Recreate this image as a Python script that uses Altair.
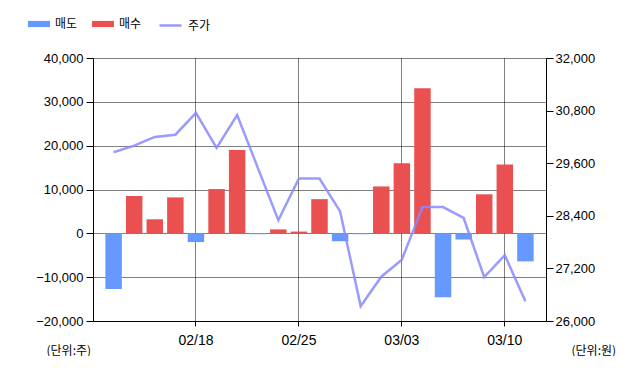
import altair as alt
import pandas as pd

dates = ["02/12", "02/13", "02/14", "02/17", "02/18", "02/19", "02/20", "02/21",
         "02/24", "02/25", "02/26", "02/27", "02/28", "03/02", "03/03", "03/04",
         "03/05", "03/06", "03/09", "03/10", "03/11"]
sell = [-12700, 0, 0, 0, -2000, 0, 0, -200, 0, 0, 0, -1800, -200, 0, 0, 0,
        -14600, -1400, 0, 0, -6400]
buy = [0, 8500, 3200, 8200, 0, 10100, 19000, 0, 900, 400, 7800, 0, 0, 10700,
       16000, 33100, 0, 0, 8900, 15700, 0]
price = [29850, 30000, 30200, 30250, 30750, 29950, 30700, 29500, 28300, 29250,
         29250, 28500, 26340, 27010, 27400, 28600, 28600, 28350, 27000, 27500, 26450]
x_ticks = ["02/18", "02/25", "03/03", "03/10"]
left_ticks = [-20000, -10000, 0, 10000, 20000, 30000, 40000]
right_ticks = [26000, 27200, 28400, 29600, 30800, 32000]

rows = []
for d, s, b in zip(dates, sell, buy):
    if s:
        rows.append({"date": d, "type": "매도", "value": s})
    if b:
        rows.append({"date": d, "type": "매수", "value": b})
bars_df = pd.DataFrame(rows)
line_df = pd.DataFrame({"date": dates, "price": price, "series": ["주가"] * len(dates)})

FONT = "Liberation Sans, Noto Sans CJK KR"
KFONT = "Noto Sans CJK KR"

x_enc = alt.X(
    "date:N", sort=dates, title=None,
    scale=alt.Scale(domain=dates, paddingInner=0.2, paddingOuter=0.6),
    axis=alt.Axis(values=x_ticks, labelAngle=0, grid=True, gridDash=[1, 1],
                  gridColor="#000000", gridOpacity=1, tickSize=5, labelPadding=7,
                  labelFontSize=14,
                  domainColor="#000000", tickColor="#000000"),
)

bars = alt.Chart(bars_df).mark_bar().encode(
    x=x_enc,
    y=alt.Y("value:Q",
            scale=alt.Scale(domain=[-20000, 40000], nice=False),
            axis=alt.Axis(values=left_ticks, format=",d", grid=True, gridDash=[1, 1],
                          gridColor="#000000", gridOpacity=1, tickSize=7, labelPadding=3,
                          labelFontSize=13,
                          domainColor="#000000", tickColor="#000000",
                          title="(단위:주)", titleAngle=0, titleX=-47, titleY=292,
                          titleAlign="left", titleBaseline="middle", titleFont=KFONT)),
    color=alt.Color("type:N",
                    scale=alt.Scale(domain=["매도", "매수"], range=["#6699ff", "#ea5050"]),
                    legend=alt.Legend(orient="none", legendX=-65, legendY=-45,
                                      direction="horizontal", title=None,
                                      symbolType="M-1,-0.28H1V0.28H-1Z", symbolSize=484,
                                      symbolStrokeWidth=0, labelOffset=5, columnPadding=14)),
)

line = alt.Chart(line_df).mark_line(strokeWidth=2.5, opacity=0.85).encode(
    x=x_enc,
    y=alt.Y("price:Q",
            scale=alt.Scale(domain=[26000, 32000], nice=False, zero=False),
            axis=alt.Axis(orient="right", values=right_ticks, format=",d", grid=False,
                          tickSize=7, labelPadding=2, labelFontSize=13,
                          domainColor="#000000", tickColor="#000000",
                          title="(단위:원)", titleAngle=0, titleX=25, titleY=292,
                          titleAlign="left", titleBaseline="middle", titleFont=KFONT)),
    stroke=alt.Stroke("series:N",
                      scale=alt.Scale(domain=["주가"], range=["#8888ff"]),
                      legend=alt.Legend(orient="none", legendX=65, legendY=-45,
                                        direction="horizontal", title=None,
                                        symbolType="stroke", symbolSize=484,
                                        symbolStrokeWidth=2.5, labelOffset=5)),
)

chart = alt.layer(bars, line).resolve_scale(y="independent").properties(
    width=453, height=263,
    autosize=alt.AutoSizeParams(type="none"),
    padding={"left": 85, "top": 50, "right": 80, "bottom": 35},
).configure_view(stroke=None).configure_axis(
    labelFont=FONT, labelColor="#000000",
    titleFontSize=12, titleFontWeight="normal", titleColor="#000000",
).configure_legend(
    labelFont=KFONT, labelFontSize=12, labelColor="#000000",
)

chart.save("out.html", embed_options={"renderer": "svg", "actions": False})
